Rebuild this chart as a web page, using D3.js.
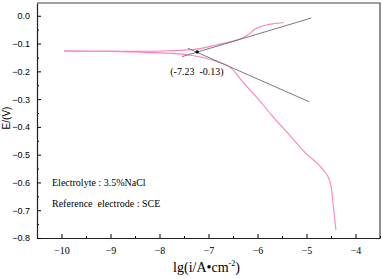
<!DOCTYPE html>
<html>
<head>
<meta charset="utf-8">
<script src="https://cdn.jsdelivr.net/npm/d3@7"></script>
<style>
    body { margin: 0; background: #fff; }
    svg { display: block; }
    text { white-space: pre; }
</style>
</head>
<body>
<div id="chart"></div>
<script>
// tick values
const xTicks = [-10, -9, -8, -7, -6, -5, -4];
const yTicks = [0, -0.1, -0.2, -0.3, -0.4, -0.5, -0.6, -0.7, -0.8];

// polarization curve, anodic branch (lg i, E)
const anodicLgI = [-9.95, -9.0, -8.4, -7.8, -7.25, -6.84, -6.37, -6.20, -6.03, -5.82, -5.69, -5.46];
const anodicE = [-0.127, -0.128, -0.128, -0.126, -0.120, -0.105, -0.085, -0.069, -0.046, -0.0335, -0.029, -0.024];

// cathodic branch
const cathodicLgI = [-9.95, -9.0, -8.4, -7.8, -7.39, -7.05, -6.81, -6.57, -6.30, -6.03, -5.70, -5.35, -5.01, -4.80, -4.67, -4.55, -4.49, -4.45, -4.40];
const cathodicE = [-0.127, -0.128, -0.131, -0.135, -0.141, -0.153, -0.166, -0.184, -0.238, -0.291, -0.360, -0.429, -0.496, -0.528, -0.552, -0.583, -0.625, -0.690, -0.771];

// tafel extrapolation lines
const tafelAnodicLgI = [-7.54, -4.90];
const tafelAnodicE = [-0.147, -0.008];
const tafelCathodicLgI = [-7.42, -4.94];
const tafelCathodicE = [-0.117, -0.31];

// corrosion point
const ecorrPoint = [-7.23, -0.13];
const ecorrLabel = "(-7.23  -0.13)";

const notes = ["Electrolyte : 3.5%NaCl", "Reference  electrode : SCE"];

let margin = {top: 3, right: 3, bottom: 41, left: 37};
let width = 383 - margin.left - margin.right;
let height = 279 - margin.top - margin.bottom;

let svg = d3.select("#chart").append("svg")
    .attr("width", 383)
    .attr("height", 279)
    .append("g")
    .attr("transform", "translate(" + margin.left + "," + margin.top + ")");

let x = d3.scaleLinear()
    .domain([-10.5, -3.5])
    .range([0, width]);

let y = d3.scaleLinear()
    .domain([-0.8, 0.046])
    .range([height, 0]);

// frame (top + right)
svg.append("path")
    .attr("d", "M0,0H" + width + "V" + height)
    .attr("fill", "none")
    .attr("stroke", "#444")
    .attr("stroke-width", 1.2);

// minor ticks
let xMinor = xTicks.map(d => d - 0.5).concat([-3.5]);
svg.append("g")
    .attr("transform", "translate(0," + height + ")")
    .call(d3.axisBottom(x).tickValues(xMinor).tickSize(-2).tickFormat(""))
    .call(g => g.select(".domain").remove());

let yMinor = yTicks.slice(1).map(d => d + 0.05);
svg.append("g")
    .call(d3.axisLeft(y).tickValues(yMinor).tickSize(-2).tickFormat(""))
    .call(g => g.select(".domain").remove());

// x axis
let xAxis = svg.append("g")
    .attr("class", "x-axis")
    .attr("transform", "translate(0," + height + ")")
    .call(d3.axisBottom(x).tickValues(xTicks).tickSize(-4).tickSizeOuter(0).tickPadding(9).tickFormat(d3.format("d")));
xAxis.selectAll("text")
    .attr("font-family", "Liberation Serif, serif")
    .attr("font-size", 10)
    .attr("fill", "#000");

// y axis
let yAxis = svg.append("g")
    .attr("class", "y-axis")
    .call(d3.axisLeft(y).tickValues(yTicks).tickSize(-4).tickSizeOuter(0).tickPadding(7).tickFormat(d3.format(".1f")));
yAxis.selectAll("text")
    .attr("font-family", "Liberation Sans, Arial, sans-serif")
    .attr("font-size", 9)
    .attr("fill", "#000");

svg.selectAll(".domain").attr("stroke", "#222").attr("stroke-width", 1.2);

// axis labels
let xLabel = svg.append("text")
    .attr("text-anchor", "middle")
    .attr("x", x(-7) - 2)
    .attr("y", height + 34)
    .attr("font-family", "Liberation Serif, serif")
    .attr("font-size", 14)
    .attr("fill", "#000");
xLabel.append("tspan").text("lg(i/A\u2022cm");
xLabel.append("tspan").attr("font-size", 8).attr("dy", -6).text("-2");
xLabel.append("tspan").attr("dy", 6).text(")");

svg.append("text")
    .attr("text-anchor", "middle")
    .attr("transform", "rotate(-90)")
    .attr("x", -(118 - margin.top))
    .attr("y", -27)
    .attr("font-family", "Liberation Sans, Arial, sans-serif")
    .attr("font-size", 10)
    .attr("fill", "#000")
    .text("E/(V)");

// curves
let line = d3.line()
    .x(d => x(d[0]))
    .y(d => y(d[1]))
    .curve(d3.curveCatmullRom.alpha(0.5));

let straight = d3.line()
    .x(d => x(d[0]))
    .y(d => y(d[1]));

let branches = [
    d3.zip(cathodicLgI, cathodicE),
    d3.zip(anodicLgI, anodicE)
];

svg.selectAll(".branch")
    .data(branches)
    .enter()
    .append("path")
    .attr("class", "branch")
    .attr("d", line)
    .attr("fill", "none")
    .attr("stroke", "#ff80c0")
    .attr("stroke-width", 1.1);

let tafels = [
    d3.zip(tafelAnodicLgI, tafelAnodicE),
    d3.zip(tafelCathodicLgI, tafelCathodicE)
];

svg.selectAll(".tafel")
    .data(tafels)
    .enter()
    .append("path")
    .attr("class", "tafel")
    .attr("d", straight)
    .attr("fill", "none")
    .attr("stroke", "#7a7a7a")
    .attr("stroke-width", 1);

svg.append("circle")
    .attr("cx", x(ecorrPoint[0]))
    .attr("cy", y(ecorrPoint[1]))
    .attr("r", 1.6)
    .attr("fill", "#000");

svg.append("text")
    .attr("x", x(ecorrPoint[0]) - 27)
    .attr("y", y(ecorrPoint[1]) + 23)
    .attr("font-family", "Liberation Serif, serif")
    .attr("font-size", 10)
    .attr("fill", "#000")
    .text(ecorrLabel);

// notes
svg.selectAll(".note")
    .data(notes)
    .enter()
    .append("text")
    .attr("class", "note")
    .attr("x", 52 - margin.left)
    .attr("y", (d, i) => 185.5 - margin.top + i * 21)
    .attr("font-family", "Liberation Serif, serif")
    .attr("font-size", 10)
    .attr("fill", "#000")
    .text(d => d);
</script>
</body>
</html>
